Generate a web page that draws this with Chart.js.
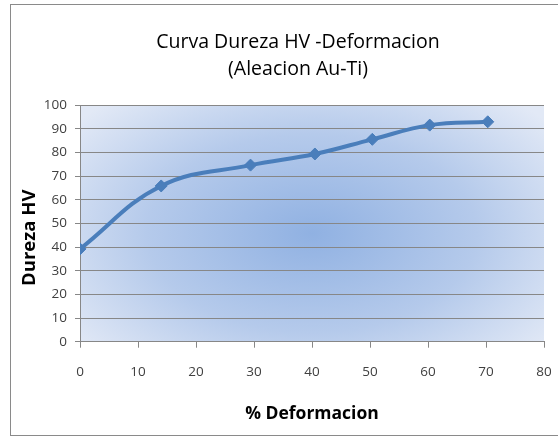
<!DOCTYPE html>
<html>
<head>
<meta charset="utf-8">
<script src="https://cdn.jsdelivr.net/npm/chart.js@4/dist/chart.umd.min.js"></script>
<style>
  html, body { margin: 0; padding: 0; background: #fff; overflow: hidden; }
  #wrap { position: absolute; left: 0; top: 0; width: 585px; height: 438px; }
</style>
</head>
<body>
<div id="wrap"><canvas id="chart_dureza" width="585" height="438"></canvas></div>
<script>
// valores
var deformacion = [0, 14, 29.4, 40.5, 50.4, 60.3, 70.3];
var dureza = [39.2, 65.8, 74.6, 79.3, 85.5, 91.5, 92.9];
var xTicks = [0, 10, 20, 30, 40, 50, 60, 70, 80];
var yTicks = [0, 10, 20, 30, 40, 50, 60, 70, 80, 90, 100];

var tituloLineas = ['Curva Dureza HV -Deformacion', '(Aleacion Au-Ti)'];
var tituloX = '% Deformacion';
var tituloY = 'Dureza HV      ';

var gris = '#878787';
var azul = '#4a7ebb';

// fondo: marco del grafico y degradado del area de trazado
var fondoPlugin = {
    id: 'fondo',
    beforeDraw: function (chart) {
        var ctx = chart.ctx;
        var a = chart.chartArea;
        ctx.save();
        ctx.strokeStyle = '#8a8a8a';
        ctx.lineWidth = 1;
        ctx.strokeRect(10.5, 4.5, 640, 431);

        var cx = (a.left + a.right) / 2;
        var cy = (a.top + a.bottom) / 2 + 10;
        var sy = 0.6;
        ctx.beginPath();
        ctx.rect(a.left, a.top, a.right - a.left, a.bottom - a.top);
        ctx.clip();
        ctx.translate(cx, cy);
        ctx.scale(1, sy);
        var g = ctx.createRadialGradient(0, 0, 0, 0, 0, 300);
        g.addColorStop(0, '#90b1e2');
        g.addColorStop(0.55, '#b5caeb');
        g.addColorStop(1, '#e2e9f6');
        ctx.fillStyle = g;
        ctx.fillRect(-400, -400 / sy, 800, 800 / sy);
        ctx.restore();
    }
};

var ctx = document.getElementById('chart_dureza');
var myChart = new Chart(ctx, {
    type: 'scatter',
    data: {
        datasets: [{
            label: 'Dureza HV',
            data: deformacion.map(function (x, i) { return { x: x, y: dureza[i] }; }),
            showLine: true,
            borderColor: azul,
            backgroundColor: azul,
            borderWidth: 4,
            tension: 0.4,
            pointStyle: 'rectRot',
            pointRadius: 6,
            pointBorderWidth: 1,
            pointBorderColor: azul,
            pointBackgroundColor: azul
        }]
    },
    options: {
        responsive: false,
        animation: false,
        layout: { padding: { left: 11, right: 0, top: 0, bottom: 0 } },
        plugins: {
            legend: { display: false },
            tooltip: { enabled: false },
            title: {
                display: true,
                text: tituloLineas,
                color: '#000',
                font: { family: 'Open Sans', size: 19.5, weight: 'normal', lineHeight: '27px' },
                padding: { top: 28.5, bottom: 22.5 }
            }
        },
        scales: {
            x: {
                type: 'linear',
                min: 0,
                max: 80,
                afterFit: function (scale) { scale.height = 96.3; },
                afterBuildTicks: function (scale) {
                    scale.ticks = xTicks.map(function (v) { return { value: v }; });
                },
                ticks: {
                    color: '#404040',
                    font: { family: 'Open Sans', size: 13.5 },
                    padding: 16
                },
                grid: { drawOnChartArea: false, drawTicks: true, tickLength: 6, color: gris },
                border: { display: true, color: gris, width: 1 },
                title: {
                    display: true,
                    text: tituloX,
                    color: '#000',
                    font: { family: 'Open Sans', size: 17.5, weight: 'bold' },
                    padding: { top: 0, bottom: 13 }
                }
            },
            y: {
                min: 0,
                max: 100,
                afterFit: function (scale) { scale.width = 69; },
                afterBuildTicks: function (scale) {
                    scale.ticks = yTicks.map(function (v) { return { value: v }; });
                },
                ticks: {
                    color: '#404040',
                    font: { family: 'Open Sans', size: 13.5 },
                    padding: 8
                },
                grid: { color: gris, tickLength: 5, lineWidth: 1 },
                border: { display: true, color: gris, width: 1 },
                title: {
                    display: true,
                    text: tituloY,
                    color: '#000',
                    font: { family: 'Open Sans', size: 18.5, weight: 'bold' },
                    padding: { top: 8, bottom: 0 }
                }
            },
            // eje vacio a la derecha: reserva el espacio hasta el borde del marco
            yDer: {
                position: 'right',
                min: 0,
                max: 100,
                afterFit: function (scale) { scale.width = 41; },
                ticks: { display: false },
                grid: { display: false },
                border: { display: false }
            }
        }
    },
    plugins: [fondoPlugin]
});
</script>
</body>
</html>
